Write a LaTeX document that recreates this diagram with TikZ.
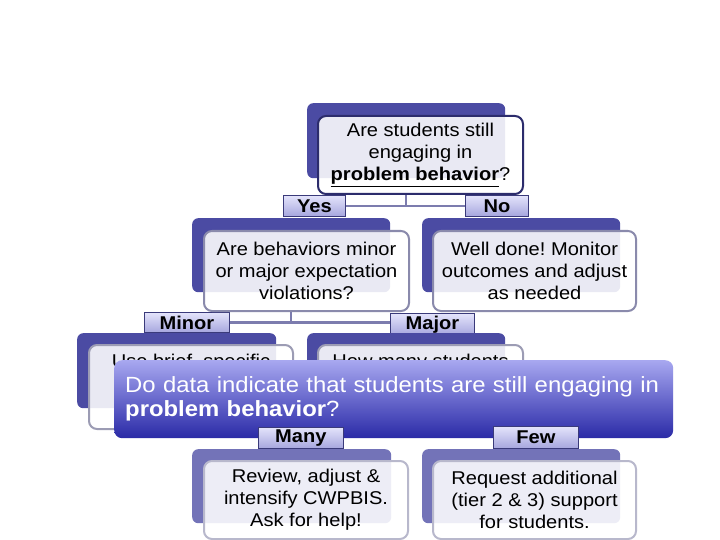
\documentclass[tikz,border=0pt]{standalone}
\usepackage{fontspec}
\setmainfont{Liberation Sans}[FakeStretch=1.085]
\frenchspacing
\definecolor{backc}{HTML}{4B4BA3}
\definecolor{backlight}{HTML}{7373B8}
\definecolor{edgeA}{HTML}{2C2C6C}
\definecolor{edgeB}{HTML}{8A8AAC}
\definecolor{edgeC}{HTML}{9C9CB4}
\definecolor{edgeD}{HTML}{B8B8CC}
\definecolor{connc}{HTML}{7C7CAE}
\definecolor{labedge}{HTML}{3A3A7A}
\definecolor{labtop}{HTML}{E4E4FB}
\definecolor{labbot}{HTML}{A6A6DE}
\definecolor{ovtop}{HTML}{A8A8F0}
\definecolor{ovmid}{HTML}{6868CC}
\definecolor{ovbot}{HTML}{2A2AA6}
\tikzset{
  backbox/.style={fill=#1, rounded corners=6pt, minimum width=198pt, minimum height=75pt, anchor=north west, inner sep=0pt},
  frontbox/.style={draw=#1, line width=2pt, fill=white, fill opacity=0.88, text opacity=1, rounded corners=8pt, minimum width=205pt, minimum height=78pt, anchor=north west, inner sep=0pt, align=center, font=\fontsize{18.5}{22}\selectfont},
  boxtext/.style={inner sep=0pt, align=center, font=\fontsize{18.5}{22}\selectfont},
  lab/.style={draw=labedge, line width=0.8pt, top color=labtop, bottom color=labbot, minimum height=21pt, inner sep=0pt, anchor=north west, font=\fontsize{18.5}{22}\selectfont\bfseries},
  conn/.style={draw=connc, line width=2.2pt},
}
\begin{document}
\begin{tikzpicture}[x=1pt,y=-1pt]
\useasboundingbox (0,0) rectangle (720,540);
\fill[white] (0,0) rectangle (720,540);

% row 1
\node[backbox=backc] (b1) at (307,103) {};
\node[lab, minimum width=62pt] (yes) at (283,195) {Yes};
\node[lab, minimum width=63pt] (no) at (465,195) {No};
\coordinate (j1) at (406,193);
\draw[conn] (j1) -- (j1 |- yes.east);
\draw[conn] (yes.east) -- (no.west);
\node[frontbox=edgeA, minimum width=205pt] (f1) at (317,115) {Are students still\\engaging in\\\underline{\textbf{problem behavior}}?};

% row 2
\node[backbox=backc, minimum height=74pt] (b2a) at (192,218) {};
\node[backbox=backc, minimum height=74pt] (b2b) at (422,218) {};
\node[lab, minimum width=85pt, minimum height=20pt] (minor) at (144,312) {Minor};
\node[lab, minimum width=84pt, minimum height=22pt] (major) at (390,313) {Major};
\coordinate (j2) at (291,310);
\draw[conn] (j2) -- (j2 |- minor.east);
\draw[conn] (minor.east) -- (minor.east -| major.west);
\node[frontbox=edgeB, minimum height=80pt] (f2a) at (203,230) {Are behaviors minor\\or major expectation\\violations?};
\node[frontbox=edgeB, minimum width=203pt, minimum height=80pt] (f2b) at (432,230) {Well done! Monitor\\outcomes and adjust\\as needed};

% row 3
\node[backbox=backc, minimum width=199pt] (b3a) at (77,333) {};
\node[backbox=backc] (b3b) at (307,333) {};
\node[frontbox=edgeC, minimum width=204pt, minimum height=84pt] (f3a) at (88,344) {};
\node[frontbox=edgeC, minimum width=205pt, minimum height=84pt] (f3b) at (317,344) {};
\node[boxtext] (t3a) at ([yshift=-19pt]f3a.north) {Use brief, specific};
\node[boxtext] (t3b) at ([yshift=-19pt]f3b.north) {How many students};

% overlay question
\node[anchor=north west, rounded corners=8pt, minimum width=559pt, minimum height=78pt,
      top color=ovtop, bottom color=ovbot, middle color=ovmid, text=white,
      align=left, text width=537pt, inner xsep=11pt, inner ysep=0pt,
      font=\fontsize{22}{24}\selectfont] (ov) at (114,360)
  {Do data indicate that students are still engaging in\\\textbf{problem behavior}?};

% row 4
\node[lab, minimum width=85pt] (many) at (258,427) {Many};
\node[lab, minimum width=85pt, minimum height=22pt] (few) at (493,426) {Few};
\node[backbox=backlight, minimum width=199pt, minimum height=74pt] (b4a) at (192,449) {};
\node[backbox=backlight, minimum height=74pt] (b4b) at (422,449) {};
\node[frontbox=edgeD, minimum width=204pt] (f4a) at (203,460) {Review, adjust \&\\intensify CWPBIS.\\Ask for help!};
\node[frontbox=edgeD, minimum width=203pt] (f4b) at (432,460) {Request additional\\(tier 2 \& 3) support\\for students.};
\end{tikzpicture}
\end{document}
